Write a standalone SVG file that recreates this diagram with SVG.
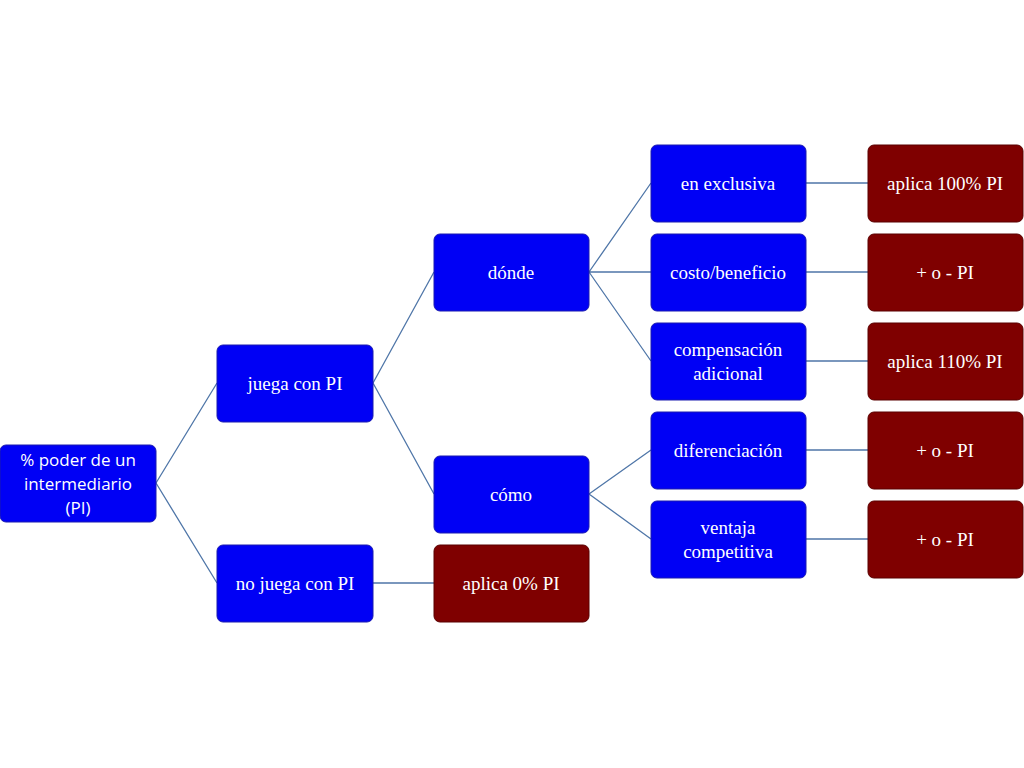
<svg xmlns="http://www.w3.org/2000/svg" width="1024" height="768" viewBox="0 0 1024 768">
<style>
.b{fill:#0000f5;stroke:#1a1ab0;stroke-width:1}
.r{fill:#7f0000;stroke:#5a0000;stroke-width:1}
text{fill:#fff;font-family:"Liberation Serif",serif;font-size:19px;text-anchor:middle}
.s{font-family:"Open Sans","Liberation Sans",sans-serif;font-size:17px}
#c path{stroke:#4f76a8;stroke-width:1.3;fill:none}
</style>
<rect width="1024" height="768" fill="#fff"/>
<g id="c">
<path d="M156 483L217 383M156 483L217 583M373 383L434 272M373 383L434 494M373 583L434 583M589 272L651 183M589 272L651 272M589 272L651 361M589 494L651 450M589 494L651 539M806 183L868 183M806 272L868 272M806 361L868 361M806 450L868 450M806 539L868 539"/>
</g>
<g id="root"><rect class="b" x="0" y="445" width="156" height="77" rx="6"/><text class="s" x="78" y="466">% poder de un</text><text class="s" x="78" y="490">intermediario</text><text class="s" x="78" y="514">(PI)</text></g>
<g id="juega"><rect class="b" x="217" y="345" width="156" height="77" rx="6"/><text x="295" y="390">juega con PI</text></g>
<g id="nojuega"><rect class="b" x="217" y="545" width="156" height="77" rx="6"/><text x="295" y="590">no juega con PI</text></g>
<g id="ap0"><rect class="r" x="434" y="545" width="155" height="77" rx="6"/><text x="511" y="590">aplica 0% PI</text></g>
<g id="donde"><rect class="b" x="434" y="234" width="155" height="77" rx="6"/><text x="511" y="279">dónde</text></g>
<g id="como"><rect class="b" x="434" y="456" width="155" height="77" rx="6"/><text x="511" y="501">cómo</text></g>
<g id="excl"><rect class="b" x="651" y="145" width="155" height="77" rx="6"/><text x="728" y="190">en exclusiva</text></g>
<g id="costo"><rect class="b" x="651" y="234" width="155" height="77" rx="6"/><text x="728" y="279">costo/beneficio</text></g>
<g id="comp"><rect class="b" x="651" y="323" width="155" height="77" rx="6"/><text x="728" y="356">compensación</text><text x="728" y="380">adicional</text></g>
<g id="dif"><rect class="b" x="651" y="412" width="155" height="77" rx="6"/><text x="728" y="457">diferenciación</text></g>
<g id="vent"><rect class="b" x="651" y="501" width="155" height="77" rx="6"/><text x="728" y="534">ventaja</text><text x="728" y="558">competitiva</text></g>
<g id="ap100"><rect class="r" x="868" y="145" width="155" height="77" rx="6"/><text x="945" y="190">aplica 100% PI</text></g>
<g id="pm1"><rect class="r" x="868" y="234" width="155" height="77" rx="6"/><text x="945" y="279">+ o - PI</text></g>
<g id="ap110"><rect class="r" x="868" y="323" width="155" height="77" rx="6"/><text x="945" y="368">aplica 110% PI</text></g>
<g id="pm2"><rect class="r" x="868" y="412" width="155" height="77" rx="6"/><text x="945" y="457">+ o - PI</text></g>
<g id="pm3"><rect class="r" x="868" y="501" width="155" height="77" rx="6"/><text x="945" y="546">+ o - PI</text></g>
</svg>
